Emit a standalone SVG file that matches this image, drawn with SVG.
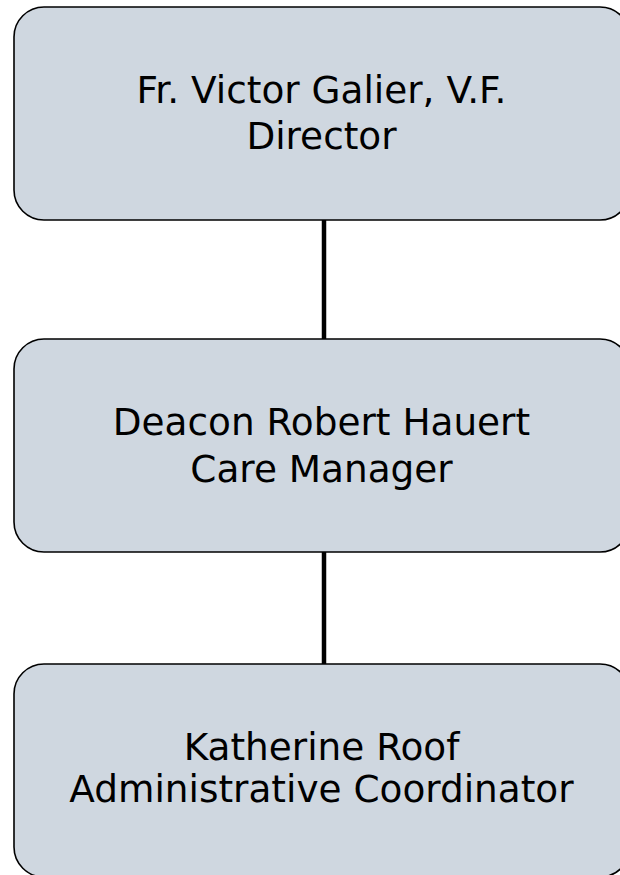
<svg xmlns="http://www.w3.org/2000/svg" width="620" height="875" viewBox="0 0 620 875">
<style>
.box{fill:#cfd7e0;stroke:#000;stroke-width:1.6}
.lbl{font-family:"DejaVu Sans","Verdana",sans-serif;font-size:37.4px;fill:#000;text-anchor:middle}
.conn{stroke:#000;stroke-width:4.5;fill:none}
</style>
<rect width="620" height="875" fill="#fff"/>
<g id="connectors">
<line class="conn" x1="324" y1="220" x2="324" y2="339"/>
<line class="conn" x1="324" y1="552" x2="324" y2="664"/>
</g>
<g id="node-director">
<rect class="box" x="14" y="7" width="616" height="213" rx="30" ry="30"/>
<text class="lbl" x="321.5" y="103">Fr. Victor Galier, V.F.</text>
<text class="lbl" x="321.5" y="149">Director</text>
</g>
<g id="node-care-manager">
<rect class="box" x="14" y="339" width="616" height="213" rx="30" ry="30"/>
<text class="lbl" x="321.5" y="435">Deacon Robert Hauert</text>
<text class="lbl" x="321.5" y="481.7">Care Manager</text>
</g>
<g id="node-admin">
<rect class="box" x="14" y="664" width="616" height="213" rx="30" ry="30"/>
<text class="lbl" x="321.5" y="760">Katherine Roof</text>
<text class="lbl" x="321.5" y="801.7">Administrative Coordinator</text>
</g>
</svg>
